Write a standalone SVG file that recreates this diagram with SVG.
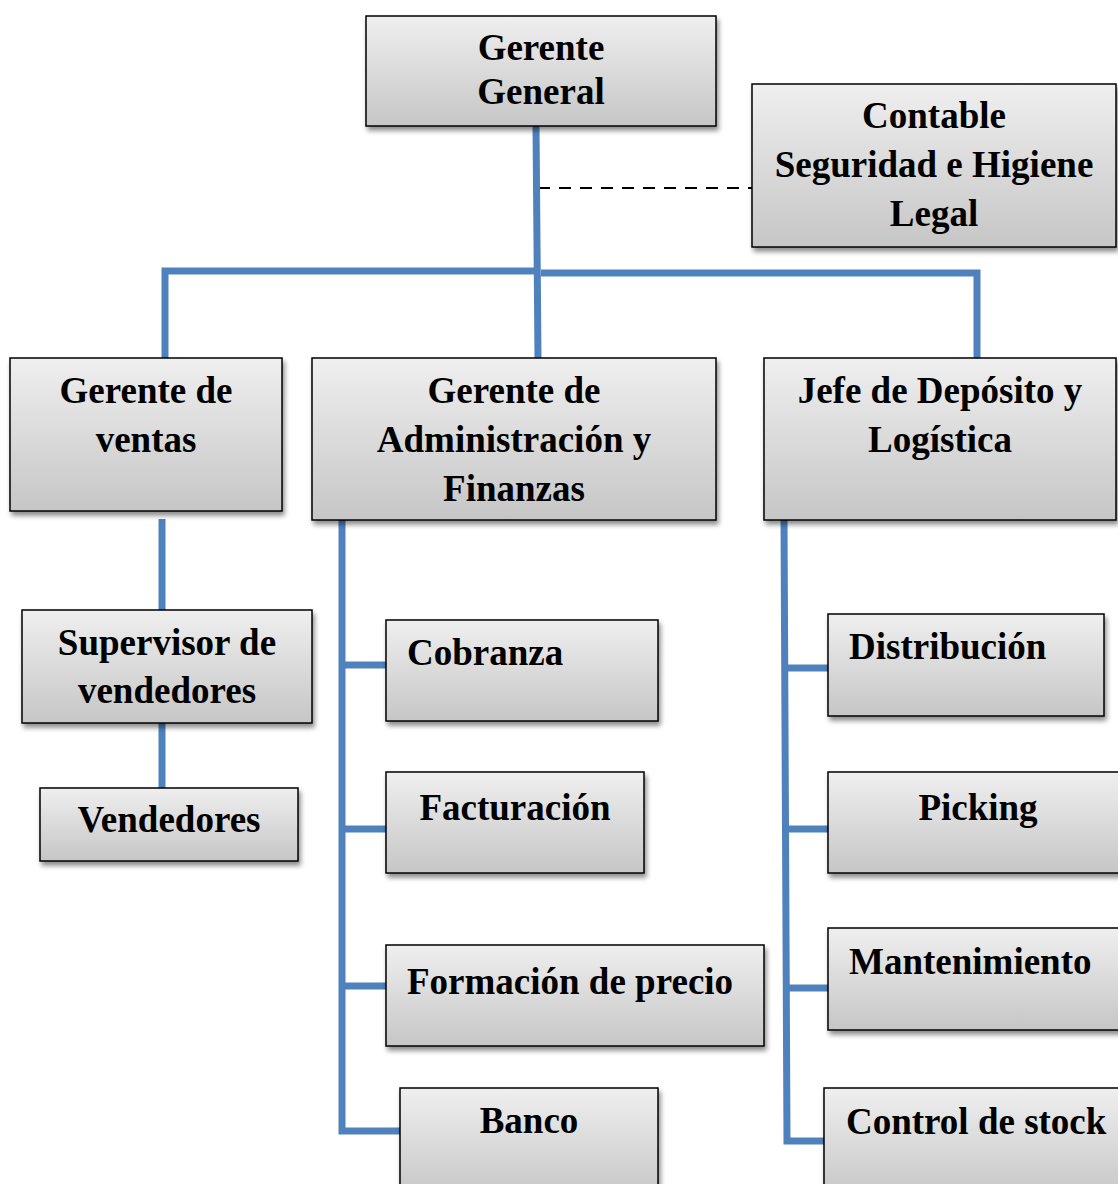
<svg xmlns="http://www.w3.org/2000/svg" width="1118" height="1184" viewBox="0 0 1118 1184">
<defs>
<linearGradient id="g" x1="0" y1="0" x2="0" y2="1">
<stop offset="0" stop-color="#efefef"/>
<stop offset="1" stop-color="#c6c6c6"/>
</linearGradient>
<filter id="sh" x="-10%" y="-10%" width="130%" height="140%">
<feGaussianBlur in="SourceAlpha" stdDeviation="2.5"/>
<feOffset dx="2" dy="4" result="b"/>
<feComponentTransfer><feFuncA type="linear" slope="0.45"/></feComponentTransfer>
<feMerge><feMergeNode/><feMergeNode in="SourceGraphic"/></feMerge>
</filter>
</defs>
<style>
.box{fill:url(#g);stroke:#000;stroke-width:1.5;filter:url(#sh)}
.t{font-family:"Liberation Serif","Times New Roman",serif;font-weight:bold;font-size:37px;fill:#000}
.c{text-anchor:middle}
.ln{stroke:#4f81bd;stroke-width:7;fill:none;stroke-linecap:butt;stroke-linejoin:miter}
</style>
<rect width="1118" height="1184" fill="#fff"/>
<g id="connectors">
<line x1="538" y1="188" x2="752" y2="188" stroke="#000" stroke-width="2" stroke-dasharray="12,9"/>
<path class="ln" d="M536,126 L538,358"/>
<path class="ln" d="M165,358 L165,271 L534,271"/>
<path class="ln" d="M541,273 L977,273 L977,358"/>
<path class="ln" d="M162,519 L162,610"/>
<path class="ln" d="M162,723 L162,788"/>
<path class="ln" d="M342,520 L342,1131 L400,1131"/>
<path class="ln" d="M342,665 L386,665"/>
<path class="ln" d="M342,829 L386,829"/>
<path class="ln" d="M342,986 L386,986"/>
<path class="ln" d="M784,518 L787,1141 L828,1141"/>
<path class="ln" d="M785,668 L830,668"/>
<path class="ln" d="M786,829 L828,829"/>
<path class="ln" d="M786,988 L828,988"/>
</g>
<g id="gerente-general"><rect class="box" x="366" y="16" width="350" height="110"/>
<text class="t c" x="541" y="60">Gerente</text><text class="t c" x="541" y="104">General</text></g>
<g id="contable"><rect class="box" x="752" y="84" width="364" height="163"/>
<text class="t c" x="934" y="128">Contable</text><text class="t c" x="934" y="177">Seguridad e Higiene</text><text class="t c" x="934" y="226">Legal</text></g>
<g id="gerente-ventas"><rect class="box" x="10" y="358" width="272" height="153"/>
<text class="t c" x="146" y="403">Gerente de</text><text class="t c" x="146" y="452">ventas</text></g>
<g id="gerente-admin"><rect class="box" x="312" y="358" width="404" height="162"/>
<text class="t c" x="514" y="403">Gerente de</text><text class="t c" x="514" y="452">Administración y</text><text class="t c" x="514" y="501">Finanzas</text></g>
<g id="jefe-deposito"><rect class="box" x="764" y="358" width="352" height="162"/>
<text class="t c" x="940" y="403">Jefe de Depósito y</text><text class="t c" x="940" y="452">Logística</text></g>
<g id="supervisor"><rect class="box" x="22" y="610" width="290" height="113"/>
<text class="t c" x="167" y="655">Supervisor de</text><text class="t c" x="167" y="703">vendedores</text></g>
<g id="vendedores"><rect class="box" x="40" y="788" width="258" height="73"/>
<text class="t c" x="169" y="832">Vendedores</text></g>
<g id="cobranza"><rect class="box" x="386" y="620" width="272" height="101"/>
<text class="t" x="407" y="665">Cobranza</text></g>
<g id="facturacion"><rect class="box" x="386" y="772" width="258" height="101"/>
<text class="t c" x="515" y="820">Facturación</text></g>
<g id="formacion"><rect class="box" x="386" y="945" width="378" height="101"/>
<text class="t" x="407" y="994">Formación de precio</text></g>
<g id="banco"><rect class="box" x="400" y="1088" width="258" height="110"/>
<text class="t c" x="529" y="1133">Banco</text></g>
<g id="distribucion"><rect class="box" x="828" y="614" width="276" height="102"/>
<text class="t" x="849" y="659">Distribución</text></g>
<g id="picking"><rect class="box" x="828" y="772" width="300" height="101"/>
<text class="t c" x="978" y="820">Picking</text></g>
<g id="mantenimiento"><rect class="box" x="828" y="928" width="300" height="102"/>
<text class="t" x="849" y="974">Mantenimiento</text></g>
<g id="control-stock"><rect class="box" x="824" y="1088" width="304" height="110"/>
<text class="t" x="846" y="1134">Control de stock</text></g>
</svg>
